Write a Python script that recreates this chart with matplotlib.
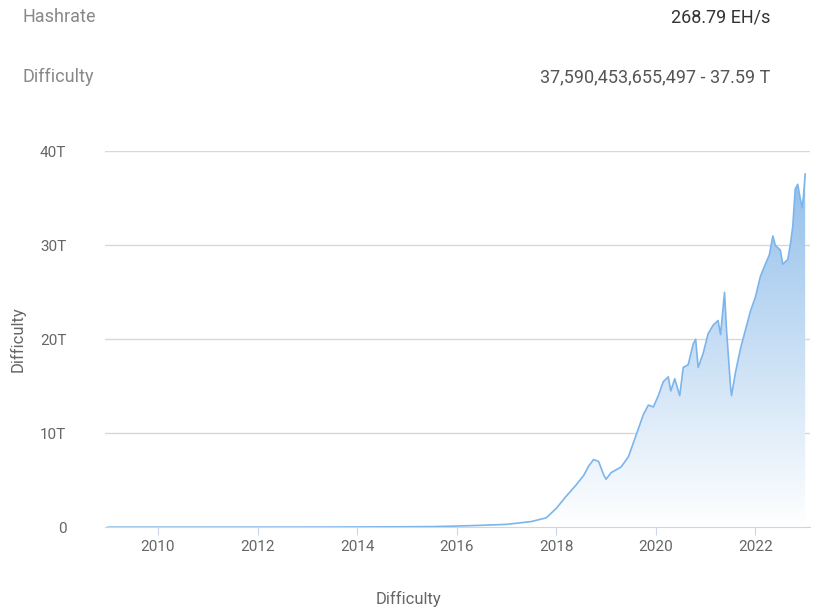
import matplotlib.pyplot as plt
import numpy as np
from matplotlib.colors import LinearSegmentedColormap

plt.rcParams['font.family'] = ['Roboto', 'DejaVu Sans']

# years (decimal) and difficulty in T
years = [2009.0, 2011.0, 2013.0, 2014.0, 2015.0, 2015.5, 2016.0, 2016.5, 2017.0, 2017.5, 2017.8,
         2018.0, 2018.2, 2018.4, 2018.55, 2018.65, 2018.75, 2018.85, 2018.95, 2019.0, 2019.1,
         2019.3, 2019.45, 2019.55, 2019.65, 2019.75, 2019.85, 2019.95, 2020.05, 2020.15, 2020.25,
         2020.3, 2020.38, 2020.48, 2020.55, 2020.65, 2020.75, 2020.8, 2020.85, 2020.95, 2021.05,
         2021.15, 2021.25, 2021.3, 2021.38, 2021.42, 2021.5, 2021.52, 2021.6, 2021.7, 2021.8,
         2021.9, 2022.0, 2022.1, 2022.2, 2022.28, 2022.35, 2022.4, 2022.5, 2022.55, 2022.65,
         2022.7, 2022.75, 2022.8, 2022.85, 2022.9, 2022.94, 2022.97, 2023.0]
difficulty = [0.0, 0.0, 0.005, 0.02, 0.045, 0.06, 0.12, 0.2, 0.3, 0.6, 1.0,
              2.0, 3.3, 4.5, 5.5, 6.5, 7.2, 7.0, 5.6, 5.1, 5.8,
              6.4, 7.5, 9.0, 10.5, 12.0, 13.0, 12.8, 14.0, 15.5, 16.0,
              14.5, 15.8, 14.0, 17.0, 17.3, 19.5, 20.0, 17.0, 18.5, 20.6,
              21.5, 22.0, 20.5, 25.0, 21.0, 15.0, 14.0, 16.5, 19.0, 21.0,
              23.0, 24.5, 26.7, 28.0, 29.0, 31.0, 30.0, 29.5, 28.0, 28.5,
              30.0, 32.0, 36.0, 36.5, 35.0, 34.0, 35.5, 37.59]
ticks = [2010, 2012, 2014, 2016, 2018, 2020, 2022]
yticks = [0, 10, 20, 30, 40]
ylabels = ["0", "10T", "20T", "30T", "40T"]

fig = plt.figure(figsize=(8.22, 6.13), dpi=100)
ax = fig.add_axes([0.128, 0.140, 0.857, 0.613])

x0, x1 = 2008.94, 2023.09
ax.set_xlim(x0, x1)
ax.set_ylim(0, 40)

# gradient fill
cmap = LinearSegmentedColormap.from_list("g", ["#ffffff", "#8cbbea"])
grad = np.linspace(0, 1, 256).reshape(-1, 1)
im = ax.imshow(grad, extent=[x0, x1, 0, 40], origin="lower", aspect="auto",
               cmap=cmap, zorder=1)
poly = ax.fill_between(years, difficulty, 0, color="none")
clip = poly.get_paths()[0]
im.set_clip_path(clip, transform=ax.transData)
ax.plot(years, difficulty, color="#7cb5ec", lw=1.2, zorder=3)

ax.set_yticks(yticks)
ax.set_yticklabels(ylabels)
ax.set_xticks(ticks)
ax.grid(axis="y", color="#d8d8d8", lw=1)
ax.set_axisbelow(True)
for s in ["top", "right", "left"]:
    ax.spines[s].set_visible(False)
ax.spines["bottom"].set_color("#ccd6eb")
ax.tick_params(axis="y", length=0, labelsize=11, labelcolor="#666666", pad=28)
ax.tick_params(axis="x", length=6, color="#ccd6eb", labelsize=11, labelcolor="#666666")
ax.set_ylabel("Difficulty", fontsize=12, color="#666666", labelpad=10)
fig.text(408 / 822, 1 - 599 / 613, "Difficulty", fontsize=12, color="#666666",
         ha="center", va="center")

fig.text(22 / 822, 1 - 17 / 613, "Hashrate", fontsize=13, color="#888888", va="center")
fig.text(770 / 822, 1 - 17 / 613, "268.79 EH/s", fontsize=13, color="#333333",
         va="center", ha="right")
fig.text(22 / 822, 1 - 77 / 613, "Difficulty", fontsize=13, color="#888888", va="center")
fig.text(770 / 822, 1 - 77 / 613, "37,590,453,655,497 - 37.59 T", fontsize=13,
         color="#555555", va="center", ha="right")

fig.savefig("out.png", dpi=100)
